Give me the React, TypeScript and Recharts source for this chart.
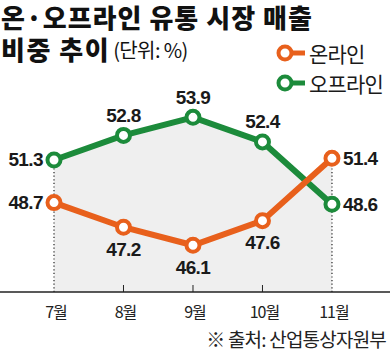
import { ComposedChart, Line, Area, XAxis, YAxis, ReferenceLine } from 'recharts';

const months = ['7월', '8월', '9월', '10월', '11월'];
const online = [48.7, 47.2, 46.1, 47.6, 51.4];
const offline = [51.3, 52.8, 53.9, 52.4, 48.6];

const onlineLabelPos = ['left', 'bottom', 'bottom', 'bottom', 'right'];
const offlineLabelPos = ['left', 'top', 'top', 'top', 'right'];

const ORANGE = '#e8601c';
const GREEN = '#1c8b3b';
const Y_MIN = 43.25;
const Y_MAX = 54.5;

const data = months.map((m, i) => ({
  idx: i,
  month: m,
  online: online[i],
  offline: offline[i],
}));

const makeLabel = (positions: string[]) => (props: any) => {
  const { x, y, value, index } = props;
  const pos = positions[index];
  let tx = x;
  let ty = y;
  let anchor: 'start' | 'middle' | 'end' = 'middle';
  if (pos === 'left') {
    tx = x - 11;
    anchor = 'end';
  } else if (pos === 'right') {
    tx = x + 11;
    anchor = 'start';
  } else if (pos === 'top') {
    ty = y - 20;
  } else {
    ty = y + 22;
  }
  return (
    <text
      x={tx}
      y={ty}
      textAnchor={anchor}
      dominantBaseline="central"
      fontFamily="'Liberation Sans', Arial, sans-serif"
      fontWeight={700}
      fontSize={19}
      letterSpacing={-0.6}
      fill="#1a1a1a"
    >
      {value}
    </text>
  );
};

const MonthTick = (props: any) => {
  const { x, y, payload, index } = props;
  const inner = index > 0 && index < months.length - 1;
  return (
    <g>
      {inner && <line x1={x} x2={x} y1={y - 7} y2={y} stroke="#222" strokeWidth={1} />}
      <text
        x={x + 2}
        y={y + 19}
        textAnchor="middle"
        dominantBaseline="central"
        fontSize={16}
        letterSpacing={-1}
        fill="#222"
        fontFamily="'Noto Sans CJK KR', sans-serif"
      >
        {months[payload.value]}
      </text>
    </g>
  );
};

function LegendItem({ color, label }: { color: string; label: string }) {
  return (
    <div style={{ display: 'flex', alignItems: 'center', height: 30 }}>
      <svg width={34} height={20}>
        <line x1={10} x2={30} y1={10} y2={10} stroke={color} strokeWidth={5} />
        <circle cx={10} cy={10} r={6.5} fill="#fff" stroke={color} strokeWidth={4} />
      </svg>
      <span style={{ fontSize: 21, letterSpacing: -0.8, color: '#1a1a1a' }}>{label}</span>
    </div>
  );
}

const titleStyle = {
  position: 'absolute' as const,
  left: 1,
  fontSize: 26,
  fontWeight: 900,
  color: '#111',
  lineHeight: '27px',
  whiteSpace: 'nowrap' as const,
};

export default function App() {
  const first = 0;
  const last = months.length - 1;
  return (
    <div
      style={{
        position: 'absolute',
        left: 0,
        top: 0,
        width: 390,
        height: 358,
        background: '#fff',
        fontFamily: "'Noto Sans CJK KR', sans-serif",
        overflow: 'hidden',
      }}
    >
      <div style={{ ...titleStyle, top: 3, letterSpacing: 1 }}>온·오프라인 유통 시장 매출</div>
      <div style={{ ...titleStyle, top: 35, letterSpacing: 1.5 }}>
        비중 추이
        <span style={{ fontSize: 20, fontWeight: 400, letterSpacing: -0.6, marginLeft: 3, verticalAlign: 2 }}>
          (단위: %)
        </span>
      </div>
      <div style={{ position: 'absolute', left: 275, top: 38 }}>
        <LegendItem color={ORANGE} label="온라인" />
        <LegendItem color={GREEN} label="오프라인" />
      </div>
      <ComposedChart
        width={390}
        height={358}
        data={data}
        margin={{ top: 107.5, right: 0, bottom: 36, left: 0 }}
        style={{ position: 'absolute', left: 0, top: 0 }}
      >
        <XAxis
          dataKey="idx"
          type="number"
          domain={[-0.777, 4.835]}
          allowDataOverflow
          ticks={[0, 1, 2, 3, 4]}
          tickLine={false}
          tickSize={0}
          tickMargin={0}
          axisLine={{ stroke: '#222', strokeWidth: 1.5 }}
          tick={<MonthTick />}
          height={30}
        />
        <YAxis hide domain={[Y_MIN, Y_MAX]} allowDataOverflow />
        <Area
          type="linear"
          dataKey="offline"
          fill="#efefef"
          fillOpacity={1}
          stroke="none"
          isAnimationActive={false}
        />
        <Area
          type="linear"
          dataKey="online"
          fill="#efefef"
          fillOpacity={1}
          stroke="none"
          isAnimationActive={false}
        />
        <ReferenceLine
          segment={[
            { x: first, y: Y_MIN },
            { x: first, y: Math.max(online[first], offline[first]) },
          ]}
          stroke="#222"
          strokeWidth={1.2}
          strokeDasharray="1.2 2.4"
        />
        <ReferenceLine
          segment={[
            { x: last, y: Y_MIN },
            { x: last, y: Math.max(online[last], offline[last]) },
          ]}
          stroke="#222"
          strokeWidth={1.2}
          strokeDasharray="1.2 2.4"
        />
        <Line
          type="linear"
          dataKey="offline"
          stroke={GREEN}
          strokeWidth={6}
          dot={{ r: 6.5, fill: '#fff', stroke: GREEN, strokeWidth: 4 }}
          activeDot={false}
          label={makeLabel(offlineLabelPos)}
          isAnimationActive={false}
        />
        <Line
          type="linear"
          dataKey="online"
          stroke={ORANGE}
          strokeWidth={6}
          dot={{ r: 6.5, fill: '#fff', stroke: ORANGE, strokeWidth: 4 }}
          activeDot={false}
          label={makeLabel(onlineLabelPos)}
          isAnimationActive={false}
        />
      </ComposedChart>
      <div
        style={{
          position: 'absolute',
          right: 4,
          top: 325,
          fontSize: 19,
          letterSpacing: -0.8,
          color: '#222',
          whiteSpace: 'nowrap',
        }}
      >
        ※ 출처: 산업통상자원부
      </div>
    </div>
  );
}
